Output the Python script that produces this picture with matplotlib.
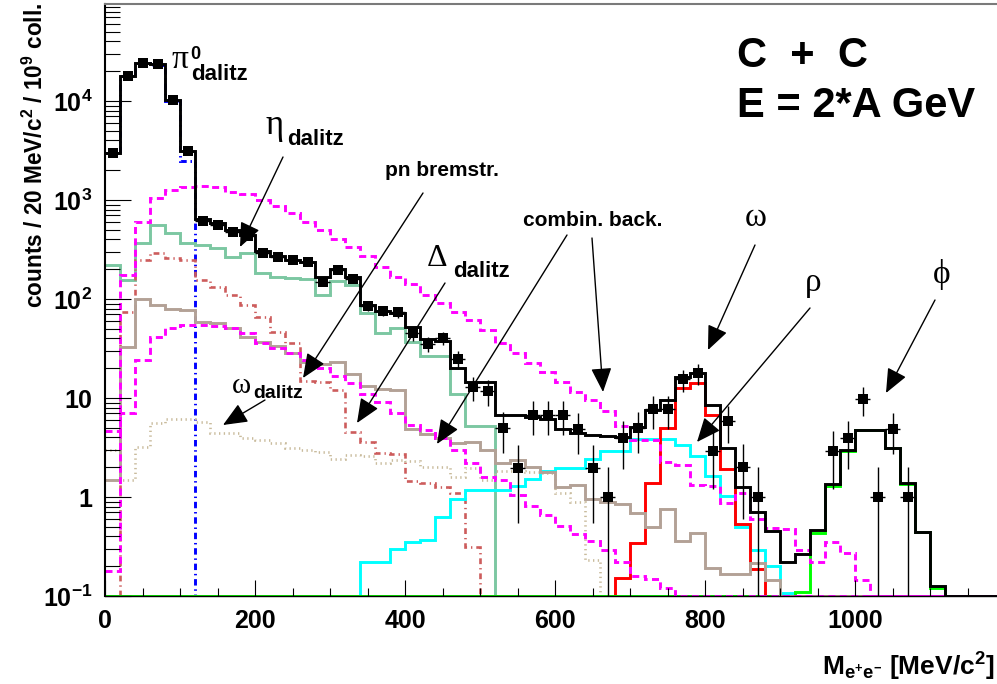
import numpy as np
import matplotlib
matplotlib.use('Agg')
import matplotlib.pyplot as plt
from matplotlib.ticker import MultipleLocator, LogLocator, NullFormatter, FixedLocator, FixedFormatter

plt.rcParams['font.family'] = ['Liberation Sans', 'DejaVu Sans']
plt.rcParams['font.weight'] = 'bold'
plt.rcParams['mathtext.fontset'] = 'custom'
plt.rcParams['mathtext.rm'] = 'Liberation Sans:bold'
plt.rcParams['mathtext.bf'] = 'Liberation Sans:bold'
plt.rcParams['mathtext.it'] = 'Liberation Sans:bold'
plt.rcParams['mathtext.sf'] = 'Liberation Sans:bold'

# ---------------- data ----------------
bin_edges = np.arange(0, 1220, 20)          # 20 MeV bins, 0 .. 1200

# measured points (bin centre, counts, error)
mass_points = [10, 30, 50, 70, 90, 110, 130, 150, 170, 190, 210, 230, 250, 270, 290,
               310, 330, 350, 370, 390, 410, 430, 450, 470, 490, 510, 530, 550, 570,
               590, 610, 630, 650, 670, 690, 710, 730, 750, 770, 790, 810, 830, 850,
               870, 970, 990, 1010, 1030, 1050, 1070]
counts = [3000, 18000, 24400, 23500, 10200, 3130, 620, 558, 472, 433, 294, 264, 248, 234, 150,
          196, 158, 85, 76, 74, 45, 35, 40, 24.6, 12.8, 11.7, 5.0, 1.95, 6.8,
          6.8, 6.8, 4.9, 1.95, 1.0, 3.9, 5.0, 7.7, 7.7, 15.5, 17.8, 2.9, 5.9, 2.0,
          1.0, 2.9, 3.9, 9.7, 1.0, 4.9, 1.0]
count_err = [55, 135, 156, 153, 101, 56, 25, 24, 22, 21, 17, 16, 16, 15, 12,
             14, 13, 9, 9, 9, 7, 6, 6, 5, 3.5, 3.4, 2.2, 1.4, 2.6,
             2.6, 2.6, 2.2, 1.4, 1.0, 2.0, 2.2, 2.8, 2.8, 3.9, 4.2, 1.7, 2.4, 1.4,
             1.0, 1.7, 2.0, 3.1, 1.0, 2.2, 1.0]

# simulated cocktail contributions (per 20 MeV bin, starting at 0 MeV)
total_sum = [3000, 18000, 24400, 23500, 10200, 3130, 640, 582, 497, 443, 308, 272, 248, 235,
             166, 202, 168, 88, 76, 72, 52, 39, 38, 20, 14.6, 14.6, 6.7, 6.7, 6.5, 6.1,
             4.9, 4.4, 4.2, 4.1, 4.0, 5.1, 7.6, 9.6, 16.4, 18.0, 8.5, 3.1, 1.25, 0.71,
             0.45, 0.22, 0.265, 0.46, 1.35, 3.0, 4.8, 4.75, 3.1, 1.37, 0.44, 0.126]
pi0_dalitz = [3000, 18000, 24000, 23300, 10000, 2500]
eta_dalitz = [220, 156, 366, 558, 461, 371, 351, 325, 267, 289, 182, 168, 164, 158, 110,
              153, 138, 72, 45, 50.6, 37, 26.5, 26.5, 11, 5.2, 5.2]
delta_dalitz = [0, 74, 248, 289, 257, 248, 156, 133, 110, 87, 66, 46.8, 35.7, 15, 14.6,
                12, 4.5, 3.6, 2.76, 2.7, 1.46, 1.4, 1.27, 1.09, 0.31]
omega_dalitz = [3.0, 1.5, 3.2, 5.6, 6.2, 6.2, 5.7, 4.4, 4.4, 3.9, 3.8, 3.5, 3.1, 3.0,
                2.87, 2.4, 2.65, 2.6, 2.2, 2.37, 2.3, 2.0, 2.0, 1.6, 1.95, 1.49, 1.84,
                1.84, 1.8, 1.74, 1.1, 0.89, 0.23]
pn_brems = [1.5, 33, 99, 87, 80, 77, 59, 57, 50.6, 41.7, 37, 33.8, 28.7, 23, 22, 23, 17.5,
            13.2, 12.2, 12, 4.9, 4.3, 3.9, 3.5, 3.6, 3.0, 2.19, 2.36, 2.0, 1.8, 1.27,
            1.32, 0.95, 0.88, 0.85, 0.69, 0.5, 0.76, 0.36, 0.43, 0.19, 0.166, 0.166,
            0.217, 0.145]
comb_upper = [4.6, 175, 603, 1040, 1260, 1360, 1380, 1340, 1210, 1150, 1000, 870, 745,
              600, 497, 402, 338, 275, 213, 165, 141, 110, 92, 74, 62, 48.6, 35.6, 28.3,
              22.4, 18.4, 14.5, 11.5, 9.5, 7.4, 5.2, 3.77, 3.77, 2.27, 2.1, 1.32, 1.3,
              0.86, 1.09, 0.6, 0.49, 0.47, 0.29, 0.22, 0.35, 0.27, 0.145]
comb_lower = [0.18, 7.0, 24.2, 41.7, 50.6, 54.6, 55, 53, 50.6, 45, 35.7, 31.8, 28.3, 24.2,
              20, 16.5, 14.3, 11.1, 9.2, 7.0, 5.3, 4.8, 3.9, 3.0, 2.19, 1.6, 1.49, 1.05,
              0.81, 0.66, 0.51, 0.42, 0.36, 0.29, 0.22, 0.16, 0.15, 0.12]
rho = [0] * 17 + [0.22, 0.22, 0.30, 0.35, 0.37, 0.63, 0.95, 1.18, 1.18, 1.18, 1.29, 1.51,
                  1.84, 1.95, 1.95, 2.4, 2.9, 2.9, 3.85, 3.85, 3.85, 3.35, 2.6, 1.64,
                  1.02, 0.5, 0.29, 0.2, 0.106]
omega = [0] * 34 + [0.151, 0.34, 1.37, 5.0, 12.5, 14.3, 6.7, 1.9, 0.53, 0.186]
phi = [0] * 46 + [0.11, 0.43, 1.3, 2.9, 4.75, 4.7, 3.1, 1.35, 0.44, 0.12]

x_tick_values = [0, 200, 400, 600, 800, 1000]
y_tick_values = [0.1, 1, 10, 100, 1000, 10000]
y_tick_labels = [r'$\mathbf{10^{-1}}$', '1', '10', r'$\mathbf{10^{2}}$',
                 r'$\mathbf{10^{3}}$', r'$\mathbf{10^{4}}$']

# ---------------- figure ----------------
W, H = 997, 684
YMIN, YMAX = 0.1, 10 ** 4.98
fig = plt.figure(figsize=(W / 100, H / 100), dpi=100)
ax = fig.add_axes([105 / W, (H - 596) / H, (W - 105) / W, (596 - 4) / H])
ax.set_yscale('log')
ax.set_xlim(0, (W - 105) / 0.75)
ax.set_ylim(YMIN, YMAX)

nb = len(bin_edges) - 1


def hist(vals, **kw):
    v = np.zeros(nb)
    v[:len(vals)] = vals
    v = np.clip(v, YMIN, None)
    ax.stairs(v, bin_edges, baseline=None, **kw)


LW = 2.1
hist(pi0_dalitz, color='#0000ff', lw=LW, ls=(0, (2.2, 1.3, 0.5, 1.3)))
hist(eta_dalitz, color='#7cc7a2', lw=LW)
hist(delta_dalitz, color='#cd5c5c', lw=1.9, ls=(0, (2.2, 1.5, 0.5, 1.5)))
hist(omega_dalitz, color='#c9bb9c', lw=1.9, ls=(0, (0.5, 1.3)))
hist(rho, color='#00ffff', lw=LW)
hist(omega, color='#ff0000', lw=LW)
hist(phi, color='#00ff00', lw=LW)
hist(pn_brems, color='#b3a196', lw=LW)
hist(comb_lower, color='#ff00ff', lw=LW, ls=(0, (2.4, 1.5)))
hist(comb_upper, color='#ff00ff', lw=LW, ls=(0, (2.4, 1.5)))
hist(total_sum, color='black', lw=LW)

ax.errorbar(mass_points, counts, xerr=10, yerr=count_err, fmt='s', color='black',
            ms=7.3, mew=0, elinewidth=1, capsize=2.2, capthick=1, zorder=5)

# axes styling
ax.spines['right'].set_visible(False)
ax.spines['top'].set_color('#7a7a7a')
ax.spines['top'].set_linewidth(1.5)
ax.spines['left'].set_linewidth(1.5)
ax.spines['bottom'].set_linewidth(1.0)

ax.xaxis.set_major_locator(FixedLocator(x_tick_values))
ax.xaxis.set_minor_locator(MultipleLocator(50))
ax.set_xticklabels([str(v) for v in x_tick_values])
ax.yaxis.set_major_locator(FixedLocator(y_tick_values))
ax.yaxis.set_major_formatter(FixedFormatter(y_tick_labels))
ax.yaxis.set_minor_locator(LogLocator(base=10, subs=np.arange(2, 10)))
ax.yaxis.set_minor_formatter(NullFormatter())
ax.tick_params(axis='x', which='major', direction='in', length=11.5, width=0.8,
               labelsize=18, pad=9, top=False)
ax.tick_params(axis='x', which='minor', direction='in', length=6, width=0.8, top=False)
ax.tick_params(axis='y', which='major', direction='in', length=19, width=0.8,
               labelsize=18, pad=9, right=False)
ax.tick_params(axis='y', which='minor', direction='in', length=10.5, width=0.8, right=False)
for lab in ax.get_xticklabels() + ax.get_yticklabels():
    lab.set_fontweight('bold')


def px(x, y):
    return (x / W, 1 - y / H)


def ftext(x, y, s, **kw):
    fig.text(*px(x, y), s, va='baseline', ha='left', **kw)


GREEK = dict(family=['Liberation Serif', 'DejaVu Serif'], fontweight='normal')

# axis titles
fig.text(*px(35, 3), r'counts / 20 MeV/c$^{2}$ / 10$^{9}$ coll.', rotation=90,
         ha='center', va='top', fontsize=16.3, fontweight='bold')
fig.text(*px(995, 676), r'M$_{\mathbf{e^{+}e^{-}}}$ [MeV/c$^{2}$]', ha='right',
         va='baseline', fontsize=19, fontweight='bold')

# system labels
ftext(737, 67, 'C  +  C', fontsize=30, fontweight='bold')
ftext(737, 117, 'E = 2*A GeV', fontsize=30, fontweight='bold')

# source labels
ftext(172, 68, 'π', fontsize=24, **GREEK)
ftext(190, 59, '0', fontsize=13, fontweight='bold')
ftext(191, 80, 'dalitz', fontsize=16, fontweight='bold')
ftext(265, 134, 'η', fontsize=25, **GREEK)
ftext(287, 145, 'dalitz', fontsize=16, fontweight='bold')
ftext(385, 176, 'pn bremstr.', fontsize=15, fontweight='bold')
ftext(427, 266, 'Δ', fontsize=23, **GREEK)
ftext(453, 277, 'dalitz', fontsize=16, fontweight='bold')
ftext(523, 226, 'combin. back.', fontsize=15, fontweight='bold')
ftext(745, 226, 'ω', fontsize=24, **GREEK)
ftext(805, 291, 'ρ', fontsize=24, **GREEK)
ftext(933, 283, 'ϕ', fontsize=24, **GREEK)
ftext(232, 393, 'ω', fontsize=21, **GREEK)
ftext(253, 398, 'dalitz', fontsize=14, fontweight='bold')

# arrows (tail -> tip), in pixel positions of the picture
arrows = [((283, 157), (240, 247)),
          ((423, 193), (303, 378)),
          ((445, 283), (357, 423)),
          ((567, 235), (437, 444)),
          ((592, 238), (603, 392)),
          ((755, 245), (708, 350)),
          ((810, 308), (697, 442)),
          ((935, 300), (886, 393)),
          ((265, 400), (223, 425))]
for tail, tip in arrows:
    ax.annotate('', xy=px(*tip), xytext=px(*tail), xycoords='figure fraction',
                textcoords='figure fraction',
                arrowprops=dict(arrowstyle='-|>,head_length=0.75,head_width=0.32',
                                mutation_scale=20, color='black', lw=1,
                                shrinkA=0, shrinkB=0))

fig.savefig('out.png', dpi=100)
